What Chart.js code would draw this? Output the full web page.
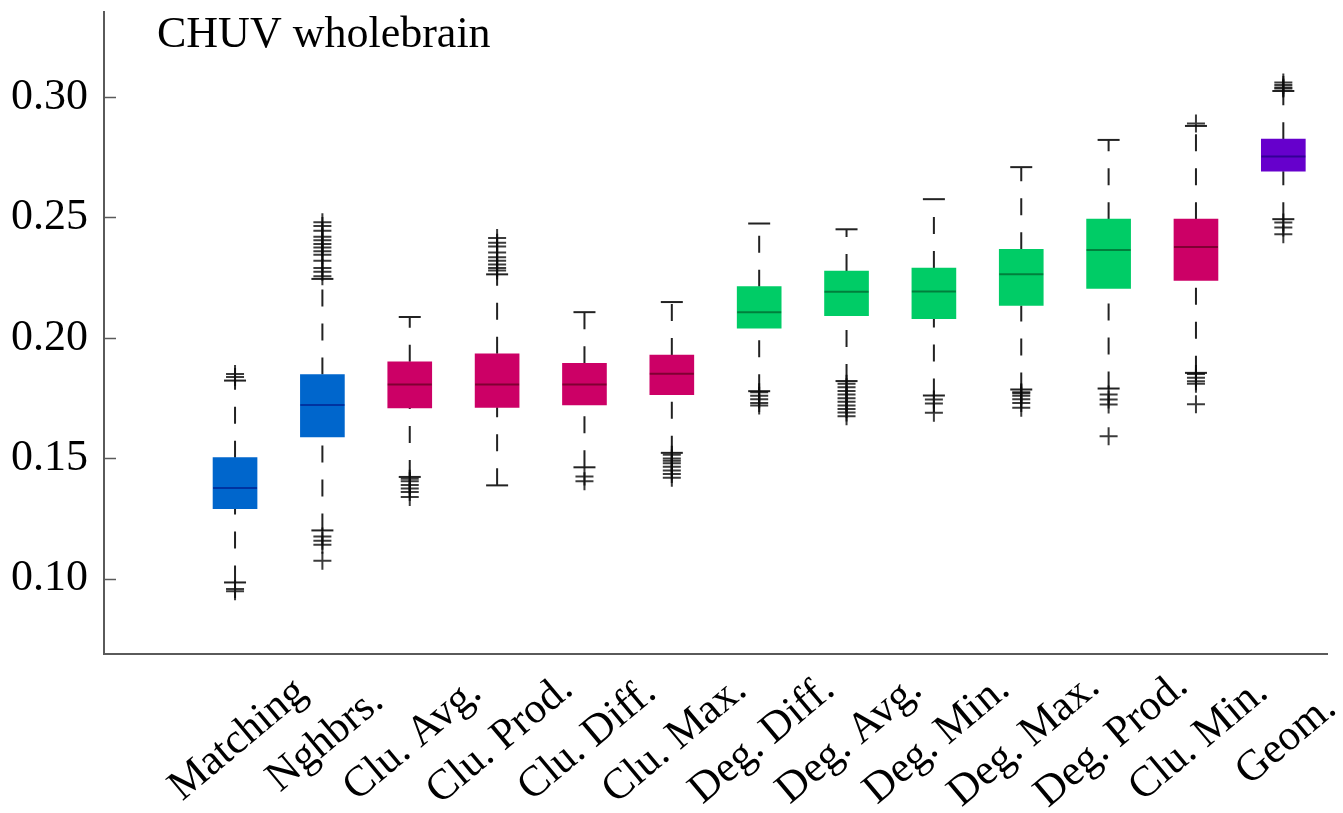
<!DOCTYPE html>
<html>
<head>
<meta charset="utf-8">
<script src="https://cdn.jsdelivr.net/npm/chart.js@4.4.0/dist/chart.umd.min.js"></script>
<style>
    body { margin: 0; background: #fff; overflow: hidden; }
    #wrap { width: 1343px; height: 813px; position: relative; }
</style>
</head>
<body>
<div id="wrap"><canvas id="boxChart"></canvas></div>
<script>
const categories = ['Matching', 'Nghbrs.', 'Clu. Avg.', 'Clu. Prod.', 'Clu. Diff.', 'Clu. Max.',
    'Deg. Diff.', 'Deg. Avg.', 'Deg. Min.', 'Deg. Max.', 'Deg. Prod.', 'Clu. Min.', 'Geom.'];
const groups = ['blue', 'blue', 'magenta', 'magenta', 'magenta', 'magenta',
    'green', 'green', 'green', 'green', 'green', 'magenta', 'purple'];

const q1 = [0.1291, 0.1589, 0.1710, 0.1712, 0.1722, 0.1764, 0.2041, 0.2092, 0.2080, 0.2135, 0.2206, 0.2239, 0.2692];
const medians = [0.1377, 0.1722, 0.1807, 0.1807, 0.1807, 0.1851, 0.2107, 0.2192, 0.2193, 0.2264, 0.2365, 0.2378, 0.2753];
const q3 = [0.1503, 0.1848, 0.1901, 0.1934, 0.1895, 0.1929, 0.2213, 0.2278, 0.2290, 0.2368, 0.2493, 0.2493, 0.2825];
const whiskerLow = [0.0985, 0.1201, 0.1423, 0.1388, 0.1463, 0.1523, 0.1779, 0.1821, 0.1761, 0.1786, 0.1790, 0.1855, 0.2493];
const whiskerHigh = [0.1823, 0.2245, 0.2087, 0.2264, 0.2107, 0.2149, 0.2475, 0.2451, 0.2576, 0.2709, 0.2822, 0.2880, 0.3025];

const outliers = [
    [0.1838, 0.1850, 0.0958, 0.0948],
    [0.1176, 0.1158, 0.1141, 0.1075, 0.2256, 0.2275, 0.2290, 0.2320, 0.2345, 0.2360, 0.2375, 0.2390, 0.2405, 0.2420, 0.2445, 0.2465, 0.2480],
    [0.1415, 0.1405, 0.1390, 0.1375, 0.1360, 0.1340],
    [0.2280, 0.2290, 0.2305, 0.2320, 0.2335, 0.2355, 0.2380, 0.2395, 0.2415],
    [0.1425, 0.1405],
    [0.1515, 0.1500, 0.1490, 0.1480, 0.1465, 0.1450, 0.1435, 0.1420],
    [0.1775, 0.1760, 0.1745, 0.1730, 0.1720],
    [0.1810, 0.1795, 0.1780, 0.1765, 0.1750, 0.1735, 0.1720, 0.1705, 0.1690, 0.1675],
    [0.1744, 0.1728, 0.1689],
    [0.1775, 0.1770, 0.1760, 0.1745, 0.1730, 0.1710],
    [0.1765, 0.1744, 0.1724, 0.1592],
    [0.2890, 0.1850, 0.1835, 0.1820, 0.1810, 0.1725],
    [0.3035, 0.3040, 0.3050, 0.3060, 0.2479, 0.2458, 0.2430]
];

const yTicks = [0.10, 0.15, 0.20, 0.25, 0.30];
const chartTitle = 'CHUV wholebrain';

const boxColors = {
    blue: 'rgb(0, 102, 204)',
    magenta: 'rgb(204, 0, 102)',
    green: 'rgb(0, 204, 102)',
    purple: 'rgb(102, 0, 204)'
};
const medianColors = {
    blue: 'rgb(0, 51, 160)',
    magenta: 'rgb(128, 0, 51)',
    green: 'rgb(0, 128, 60)',
    purple: 'rgb(51, 0, 150)'
};

const serif = '"Liberation Serif", "Times New Roman", serif';
const axisGray = '#5a5a5a';

// whisker segments, each drawn from its lower end upward, split by gaps
const whiskerPoints = [];
categories.forEach((c, i) => {
    whiskerPoints.push({ x: i, y: whiskerLow[i] }, { x: i, y: q1[i] }, { x: i, y: null });
    whiskerPoints.push({ x: i, y: q3[i] }, { x: i, y: whiskerHigh[i] }, { x: i, y: null });
});

const capPoints = [];
categories.forEach((c, i) => {
    capPoints.push({ x: i, y: whiskerLow[i] }, { x: i, y: whiskerHigh[i] });
});

const outlierPoints = [];
outliers.forEach((list, i) => {
    list.forEach(v => outlierPoints.push({ x: i, y: v }));
});

// draws inward ticks, rotated category labels and the title
const extrasPlugin = {
    id: 'extras',
    afterDraw(chart) {
        const ctx = chart.ctx;
        const xScale = chart.scales.x;
        const yScale = chart.scales.y;
        const area = chart.chartArea;

        ctx.save();
        ctx.strokeStyle = axisGray;
        ctx.lineWidth = 1.5;
        yTicks.forEach(v => {
            const py = Math.round(yScale.getPixelForValue(v)) + 0.5;
            ctx.beginPath();
            ctx.moveTo(area.left, py);
            ctx.lineTo(area.left + 12, py);
            ctx.stroke();
        });

        ctx.fillStyle = '#000';
        ctx.font = '43px ' + serif;
        ctx.textAlign = 'center';
        ctx.textBaseline = 'middle';
        categories.forEach((label, i) => {
            const px = xScale.getPixelForValue(i) + 3;
            ctx.save();
            ctx.translate(px, area.bottom + 86);
            ctx.rotate(-40 * Math.PI / 180);
            ctx.fillText(label, 0, 0);
            ctx.restore();
        });

        ctx.font = '44px ' + serif;
        ctx.textAlign = 'left';
        ctx.textBaseline = 'alphabetic';
        ctx.fillText(chartTitle, area.left + 53, area.top + 35);
        ctx.restore();
    }
};

const ctx = document.getElementById('boxChart').getContext('2d');
new Chart(ctx, {
    type: 'bar',
    data: {
        datasets: [
            {
                type: 'line',
                data: whiskerPoints,
                borderColor: '#222',
                borderWidth: 2,
                borderDash: [17, 17],
                pointRadius: 0,
                spanGaps: false,
                order: 5
            },
            {
                type: 'bar',
                data: categories.map((c, i) => ({ x: i, y: [q1[i], q3[i]] })),
                backgroundColor: groups.map(g => boxColors[g]),
                borderWidth: 0,
                barThickness: 44,
                order: 4
            },
            {
                type: 'scatter',
                data: categories.map((c, i) => ({ x: i, y: medians[i] })),
                pointStyle: 'line',
                pointRadius: 22,
                borderColor: groups.map(g => medianColors[g]),
                borderWidth: 2,
                order: 3
            },
            {
                type: 'scatter',
                data: capPoints,
                pointStyle: 'line',
                pointRadius: 11,
                borderColor: '#222',
                borderWidth: 2,
                order: 2
            },
            {
                type: 'scatter',
                data: outlierPoints,
                pointStyle: 'cross',
                pointRadius: 9,
                borderColor: 'rgba(10, 10, 10, 0.8)',
                borderWidth: 2,
                order: 1
            }
        ]
    },
    options: {
        responsive: true,
        maintainAspectRatio: false,
        animation: false,
        layout: { autoPadding: false, padding: { top: 12, right: 16, bottom: 159, left: 0 } },
        plugins: {
            legend: { display: false },
            tooltip: { enabled: false },
            title: { display: false }
        },
        scales: {
            x: {
                type: 'linear',
                min: -1.5,
                max: 12.5,
                offset: false,
                grid: { display: false, drawTicks: false, offset: false },
                border: { display: true, color: axisGray, width: 2 },
                ticks: { display: false },
                afterFit(scale) {
                    scale.height = 0;
                    scale.paddingLeft = 0;
                    scale.paddingRight = 0;
                }
            },
            y: {
                min: 0.0688,
                max: 0.3353,
                grid: { drawOnChartArea: false, drawTicks: false },
                border: { display: true, color: axisGray, width: 2 },
                ticks: {
                    color: '#000',
                    padding: 16,
                    font: { family: serif, size: 44, lineHeight: 0.4 },
                    callback: v => v.toFixed(2)
                },
                afterBuildTicks(scale) {
                    scale.ticks = yTicks.map(v => ({ value: v }));
                },
                afterFit(scale) {
                    scale.width = 104;
                    scale.paddingTop = 0;
                    scale.paddingBottom = 0;
                }
            }
        }
    },
    plugins: [extrasPlugin]
});
</script>
</body>
</html>
